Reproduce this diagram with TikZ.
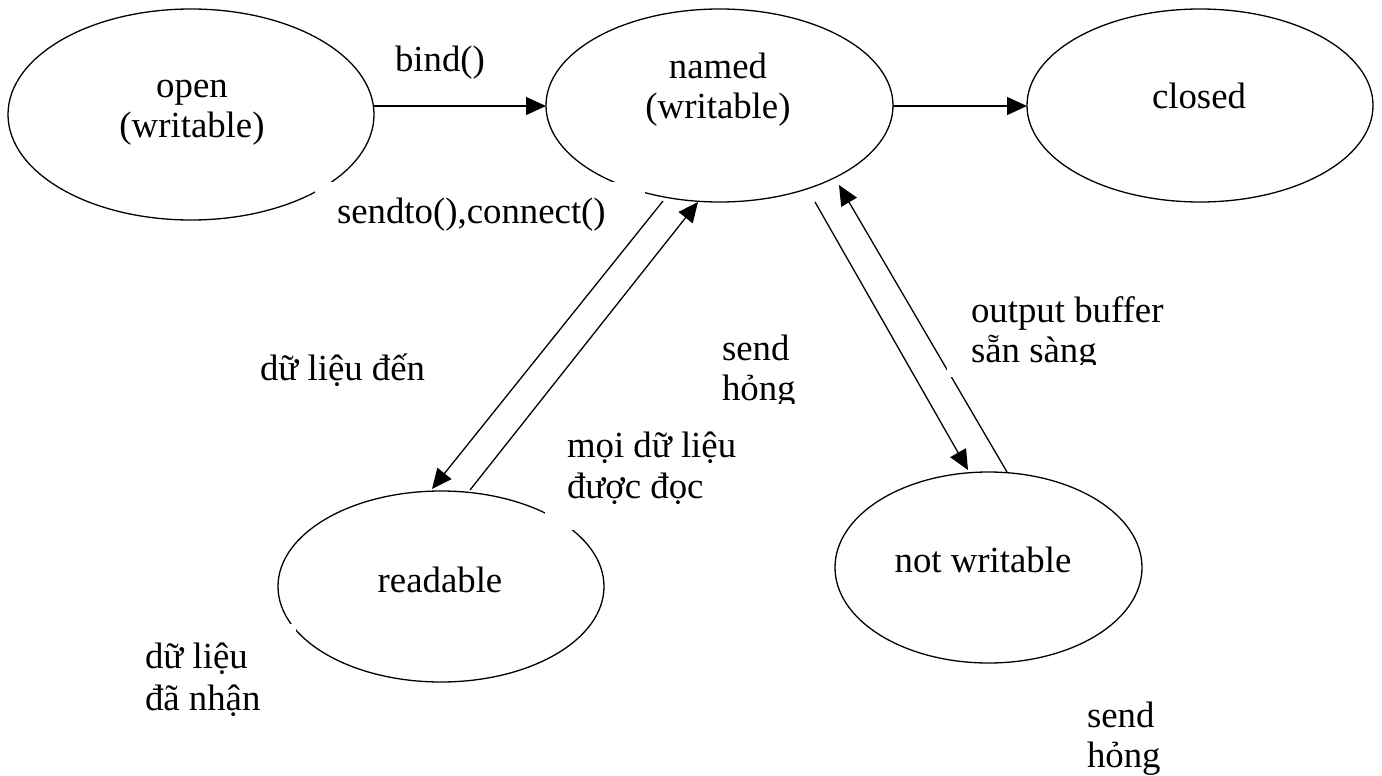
\documentclass[tikz,border=0pt]{standalone}
\usepackage{fontspec}
\setmainfont{Liberation Serif}
\usetikzlibrary{shapes.geometric,arrows.meta}
\begin{document}
\begin{tikzpicture}[x=1pt,y=-1pt,
  every node/.style={font=\fontsize{36.8}{40}\selectfont, inner sep=0pt, outer sep=0pt},
  state/.style={ellipse, draw, line width=1.3pt, inner sep=0pt},
  flow/.style={line width=1.3pt, -{Triangle[length=20pt,width=18pt]}},
  txt/.style={anchor=base west},
  ctxt/.style={anchor=base},
  boxbg/.style={fill=white, draw=none}]
\useasboundingbox (0,0) rectangle (1382,776);
\fill[white] (0,0) rectangle (1382,776);

% socket states
\node[state, minimum width=366pt, minimum height=211pt] (open)   at (191,114.5) {};
\node[state, minimum width=347pt, minimum height=193pt] (named)  at (719.5,105.5) {};
\node[state, minimum width=346pt, minimum height=193pt] (closed) at (1200,105.5) {};
\node[state, minimum width=326pt, minimum height=191pt] (readable) at (441,586.5) {};
\node[state, minimum width=307pt, minimum height=191pt] (notwr)  at (988.5,567.5) {};

% transitions
\draw[flow] ([shift={(183,-8.5)}]open.center) -- ([shift={(-173.5,0.5)}]named.center);
\draw[flow] ([shift={(173.5,0.5)}]named.center) -- ([shift={(-173,0.5)}]closed.center);
\draw[flow] ([shift={(-56.5,95.5)}]named.center) -- ([shift={(-9,-97.5)}]readable.center);
\draw[flow] ([shift={(29,-96.5)}]readable.center) -- ([shift={(-21.5,96.5)}]named.center);
\draw[flow] ([shift={(95.5,96.5)}]named.center) -- ([shift={(-20.5,-97.5)}]notwr.center);
\draw[flow] ([shift={(18.5,-95.5)}]notwr.center) -- ([shift={(119.5,79.5)}]named.center);

% opaque text-box backgrounds
\fill[boxbg] (315,182) rectangle (645,219);
\fill[boxbg] (545,425) rectangle (760,530);
\fill[boxbg] (135,624) rectangle (296,730);
\fill[boxbg] (947,290) rectangle (1200,377);
\fill[boxbg] (715,320) rectangle (820,410);

% state names
\node[ctxt] (open-a)  at (192,97)  {open};
\node[ctxt] (open-b)  at (192,137) {(writable)};
\node[ctxt] (named-a) at (718,78)  {named};
\node[ctxt] (named-b) at (718,118) {(writable)};
\node[ctxt] (closed-a) at (1199,108) {closed};
\node[ctxt] (readable-a) at (440,592) {readable};
\node[ctxt] (notwr-a) at (983,572) {not writable};

% transition labels
\node[txt] (l-bind) at (395,72) {bind()};
\node[txt] (l-send) at (337,223) {sendto(),connect()};
\node[txt] (l-den) at (260,380) {dữ liệu đến};
\node[txt] (l-moi-a) at (567,457) {mọi dữ liệu};
\node[txt] (l-moi-b) at (567,498) {được đọc};
\node[txt] (l-nhan-a) at (145,668) {dữ liệu};
\node[txt] (l-nhan-b) at (145,710) {đã nhận};
\node[txt] (l-hong2-a) at (1087,727) {send};
\node[txt] (l-hong2-b) at (1087,767) {hỏng};
\begin{scope}
  \clip (715,320) rectangle (820,403);
  \node[txt] (l-hong1-a) at (722,360) {send};
  \node[txt] (l-hong1-b) at (722,400) {hỏng};
\end{scope}
\begin{scope}
  \clip (947,280) rectangle (1200,364);
  \node[txt] (l-buf-a) at (971,322) {output buffer};
  \node[txt] (l-buf-b) at (971,362) {sẵn sàng};
\end{scope}
\end{tikzpicture}
\end{document}
